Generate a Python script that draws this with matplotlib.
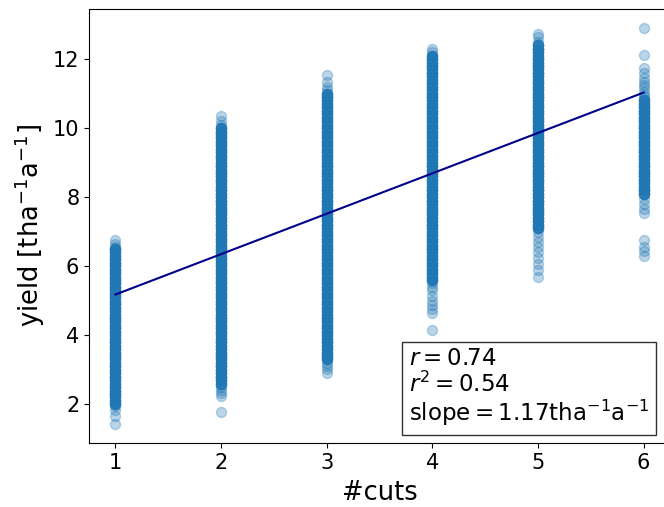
import numpy as np
import matplotlib.pyplot as plt

# yield readings per number of cuts (~0.1 t/ha resolution)
cuts = [1, 2, 3, 4, 5, 6]

# solid band of each column (many overlapping observations per value)
dense_1 = [2.0, 2.1, 2.2, 2.3, 2.4, 2.5, 2.6, 2.7, 2.8, 2.9, 3.0, 3.1, 3.2, 3.3, 3.4, 3.5,
           3.6, 3.7, 3.8, 3.9, 4.0, 4.1, 4.2, 4.3, 4.4, 4.5, 4.6, 4.7, 4.8, 4.9, 5.0, 5.1,
           5.2, 5.3, 5.4, 5.5, 5.6, 5.7, 5.8, 5.9, 6.0, 6.1, 6.2, 6.3, 6.4, 6.5]
dense_2 = [2.6, 2.7, 2.8, 2.9, 3.0, 3.1, 3.2, 3.3, 3.4, 3.5, 3.6, 3.7, 3.8, 3.9, 4.0, 4.1,
           4.2, 4.3, 4.4, 4.5, 4.6, 4.7, 4.8, 4.9, 5.0, 5.1, 5.2, 5.3, 5.4, 5.5, 5.6, 5.7,
           5.8, 5.9, 6.0, 6.1, 6.2, 6.3, 6.4, 6.5, 6.6, 6.7, 6.8, 6.9, 7.0, 7.1, 7.2, 7.3,
           7.4, 7.5, 7.6, 7.7, 7.8, 7.9, 8.0, 8.1, 8.2, 8.3, 8.4, 8.5, 8.6, 8.7, 8.8, 8.9,
           9.0, 9.1, 9.2, 9.3, 9.4, 9.5, 9.6, 9.7, 9.8, 9.9, 10.0]
dense_3 = [3.3, 3.4, 3.5, 3.6, 3.7, 3.8, 3.9, 4.0, 4.1, 4.2, 4.3, 4.4, 4.5, 4.6, 4.7, 4.8,
           4.9, 5.0, 5.1, 5.2, 5.3, 5.4, 5.5, 5.6, 5.7, 5.8, 5.9, 6.0, 6.1, 6.2, 6.3, 6.4,
           6.5, 6.6, 6.7, 6.8, 6.9, 7.0, 7.1, 7.2, 7.3, 7.4, 7.5, 7.6, 7.7, 7.8, 7.9, 8.0,
           8.1, 8.2, 8.3, 8.4, 8.5, 8.6, 8.7, 8.8, 8.9, 9.0, 9.1, 9.2, 9.3, 9.4, 9.5, 9.6,
           9.7, 9.8, 9.9, 10.0, 10.1, 10.2, 10.3, 10.4, 10.5, 10.6, 10.7, 10.8, 10.9, 11.0]
dense_4 = [5.6, 5.7, 5.8, 5.9, 6.0, 6.1, 6.2, 6.3, 6.4, 6.5, 6.6, 6.7, 6.8, 6.9, 7.0, 7.1,
           7.2, 7.3, 7.4, 7.5, 7.6, 7.7, 7.8, 7.9, 8.0, 8.1, 8.2, 8.3, 8.4, 8.5, 8.6, 8.7,
           8.8, 8.9, 9.0, 9.1, 9.2, 9.3, 9.4, 9.5, 9.6, 9.7, 9.8, 9.9, 10.0, 10.1, 10.2, 10.3,
           10.4, 10.5, 10.6, 10.7, 10.8, 10.9, 11.0, 11.1, 11.2, 11.3, 11.4, 11.5, 11.6, 11.7,
           11.8, 11.9, 12.0, 12.1]
dense_5 = [7.1, 7.2, 7.3, 7.4, 7.5, 7.6, 7.7, 7.8, 7.9, 8.0, 8.1, 8.2, 8.3, 8.4, 8.5, 8.6,
           8.7, 8.8, 8.9, 9.0, 9.1, 9.2, 9.3, 9.4, 9.5, 9.6, 9.7, 9.8, 9.9, 10.0, 10.1, 10.2,
           10.3, 10.4, 10.5, 10.6, 10.7, 10.8, 10.9, 11.0, 11.1, 11.2, 11.3, 11.4, 11.5, 11.6,
           11.7, 11.8, 11.9, 12.0, 12.1, 12.2, 12.3, 12.4]
dense_6 = [8.1, 8.2, 8.3, 8.4, 8.5, 8.6, 8.7, 8.8, 8.9, 9.0, 9.1, 9.2, 9.3, 9.4, 9.5, 9.6,
           9.7, 9.8, 9.9, 10.0, 10.1, 10.2, 10.3, 10.4, 10.5, 10.6, 10.7, 10.8]

# single observations in the tails
sparse_1 = [6.77, 6.65, 6.56, 1.95, 1.83, 1.65, 1.42]
sparse_2 = [10.34, 10.2, 10.1, 2.5, 2.42, 2.33, 2.23, 1.77]
sparse_3 = [11.53, 11.35, 11.2, 11.1, 3.2, 3.1, 3.03, 2.92]
sparse_4 = [12.28, 12.2, 5.5, 5.4, 5.3, 5.15, 5.0, 4.88, 4.75, 4.65, 4.15]
sparse_5 = [12.73, 12.63, 12.5, 7.0, 6.85, 6.7, 6.55, 6.4, 6.25, 6.05, 5.9, 5.7]
sparse_6 = [12.9, 12.12, 11.75, 11.6, 11.45, 11.35, 11.25, 11.15, 11.05, 10.95, 10.9,
            7.95, 7.8, 7.65, 7.55, 6.75, 6.55, 6.45, 6.3]

dense = [dense_1, dense_2, dense_3, dense_4, dense_5, dense_6]
sparse = [sparse_1, sparse_2, sparse_3, sparse_4, sparse_5, sparse_6]
obs_per_value = 6  # dense band: several plots share each value

# linear fit
r_value = 0.74
r_squared = 0.54
slope = 1.17
intercept = 4.01

xs, ys = [], []
for c, d, s in zip(cuts, dense, sparse):
    d_rep = np.repeat(d, obs_per_value)
    ys += list(d_rep) + list(s)
    xs += [c] * (len(d_rep) + len(s))

fig = plt.figure(figsize=(6.64, 5.07), dpi=100)
ax = fig.add_axes([89 / 664, 64 / 507, 581 / 664, 434 / 507])

ax.scatter(xs, ys, s=52, alpha=0.3, color="tab:blue")
xline = np.array([cuts[0], cuts[-1]])
ax.plot(xline, intercept + slope * xline, color="darkblue", lw=1.5)

ax.set_xlim(0.75, 6.25)
ax.set_ylim(0.88, 13.45)
ax.set_yticks([2, 4, 6, 8, 10, 12])
ax.set_xticks(cuts)
ax.tick_params(labelsize=15)
ax.set_xlabel("#cuts", fontsize=18.5, labelpad=5)
ax.set_ylabel("yield [tha$^{-1}$a$^{-1}$]", fontsize=18.5)

txt = (f"$r = {r_value:.2f}$\n$r^2 = {r_squared:.2f}$\n"
       f"slope$ = {slope:.2f}$tha$^{{-1}}$a$^{{-1}}$")
ax.text(0.964, 0.035, txt, transform=ax.transAxes, ha="right", va="bottom",
        multialignment="left", fontsize=16.5, linespacing=1.05,
        bbox=dict(boxstyle="square,pad=0.3", facecolor="white", edgecolor="#333333"))

fig.savefig("out.png", dpi=100)
